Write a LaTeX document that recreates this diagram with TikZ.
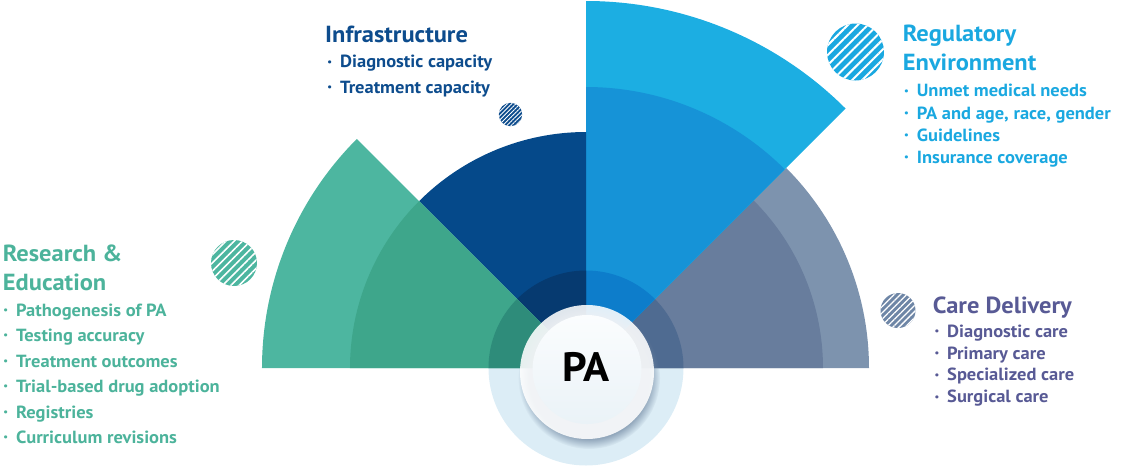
\documentclass[tikz,border=0pt]{standalone}
\usepackage{fontspec}
\setmainfont{PT Sans}[FakeStretch=1.05]
\usetikzlibrary{patterns.meta,fadings}

\definecolor{greenOut}{HTML}{4DB6A0}
\definecolor{greenIn}{HTML}{3EA68B}
\definecolor{greenCore}{HTML}{2E8C7A}
\definecolor{greenText}{HTML}{4CB39B}
\definecolor{navyOut}{HTML}{05498A}
\definecolor{navyCore}{HTML}{063A70}
\definecolor{navyText}{HTML}{0D4C8D}
\definecolor{cyanOut}{HTML}{1CAEE2}
\definecolor{cyanIn}{HTML}{1693D7}
\definecolor{cyanCore}{HTML}{0D7DCB}
\definecolor{cyanText}{HTML}{1AA8E0}
\definecolor{slateOut}{HTML}{7D93AE}
\definecolor{slateIn}{HTML}{687D9D}
\definecolor{slateCore}{HTML}{4F6B91}
\definecolor{slateDot}{HTML}{6E86A6}
\definecolor{slateText}{HTML}{585A95}
\definecolor{haloBlue}{HTML}{DCEDF6}
\definecolor{shadowBlue}{HTML}{6F86A0}
\definecolor{diskTop}{HTML}{FBFDFE}
\definecolor{diskBot}{HTML}{EAF2F7}

\newcommand\dotmark{\makebox[13pt][l]{\hspace{0.3pt}\raisebox{0.3ex}{\fontsize{10}{10}\selectfont\textbullet}}}

\begin{document}
\begin{tikzpicture}[x=1pt,y=1pt,
    headline/.style={anchor=base west, inner sep=0pt, font=\fontsize{23.3}{23}\selectfont\bfseries},
    listline/.style={anchor=base west, inner sep=0pt, font=\fontsize{17.6}{17}\selectfont\bfseries},
    hatch/.style n args={3}{fill=#1, postaction={pattern={Lines[angle=45,distance=#2,line width=#3]}, pattern color=white}}]
  \useasboundingbox (-586,-99) rectangle (554,368);

  % halo under the fan
  \fill[haloBlue] (-97.5,0) arc[start angle=180, end angle=360, radius=97.5] -- cycle;

  % fan sectors
  \fill[slateOut] (0,0) -- (0:283) arc[start angle=0, end angle=45, radius=283] -- cycle;
  \fill[slateIn] (0,0) -- (0:237) arc[start angle=0, end angle=45, radius=237] -- cycle;
  \fill[slateCore] (0,0) -- (0:97.5) arc[start angle=0, end angle=45, radius=97.5] -- cycle;
  \fill[cyanOut] (0,0) -- (45:367) arc[start angle=45, end angle=90, radius=367] -- cycle;
  \fill[cyanIn] (0,0) -- (45:281) arc[start angle=45, end angle=90, radius=281] -- cycle;
  \fill[cyanCore] (0,0) -- (45:97.5) arc[start angle=45, end angle=90, radius=97.5] -- cycle;
  \fill[navyOut] (0,0) -- (90:236) arc[start angle=90, end angle=135, radius=236] -- cycle;
  \fill[navyCore] (0,0) -- (90:97.5) arc[start angle=90, end angle=135, radius=97.5] -- cycle;
  \fill[greenOut] (0,0) -- (135:324) arc[start angle=135, end angle=180, radius=324] -- cycle;
  \fill[greenIn] (0,0) -- (135:236) arc[start angle=135, end angle=180, radius=236] -- cycle;
  \fill[greenCore] (0,0) -- (135:97.5) arc[start angle=135, end angle=180, radius=97.5] -- cycle;

  % centre disk
  \fill[shadowBlue, path fading=circle with fuzzy edge 15 percent, opacity=.7] (3,-10) circle (71);
  \fill[white, opacity=.88] (1,-4) circle (67);
  \shade[top color=diskTop, bottom color=diskBot] (1,-1.5) circle (54.5);
  \node[anchor=base, inner sep=0pt, font=\fontsize{41}{41}\selectfont\bfseries] (pa) at (0,-13.7) {PA};

  % hatched dots
  \fill[hatch={greenOut}{5.8pt}{1.6pt}] (-352,105) circle (23);
  \fill[hatch={navyText}{3pt}{0.9pt}] (-75.5,253.5) circle (11.7);
  \fill[hatch={cyanText}{7pt}{2pt}] (269.5,316) circle (28.5);
  \fill[hatch={slateDot}{4.4pt}{1.3pt}] (312,57.5) circle (17.5);

  % Research & Education
  \node[headline, text=greenText] (re) at (-583.3,106.3) {Research \&};
  \node[headline, text=greenText] (re0) at (-583.3,78) {Education};
  \node[listline, text=greenText] (re1) at (-583,52) {\dotmark Pathogenesis of PA};
  \node[listline, text=greenText] (re2) at (-583,26.5) {\dotmark Testing accuracy};
  \node[listline, text=greenText] (re3) at (-583,1) {\dotmark Treatment outcomes};
  \node[listline, text=greenText] (re4) at (-583,-24.5) {\dotmark Trial-based drug adoption};
  \node[listline, text=greenText] (re5) at (-583,-50) {\dotmark Registries};
  \node[listline, text=greenText] (re6) at (-583,-75.5) {\dotmark Curriculum revisions};

  % Infrastructure
  \node[headline, text=navyText] (inf) at (-261,325.7) {Infrastructure};
  \node[listline, text=navyText] (inf1) at (-259,300.3) {\dotmark Diagnostic capacity};
  \node[listline, text=navyText] (inf2) at (-259,274.7) {\dotmark Treatment capacity};

  % Regulatory Environment
  \node[headline, text=cyanText] (reg) at (316.7,326.3) {Regulatory};
  \node[headline, text=cyanText] (reg0) at (316.7,297.3) {Environment};
  \node[listline, text=cyanText] (reg1) at (317.7,271.3) {\dotmark Unmet medical needs};
  \node[listline, text=cyanText] (reg2) at (317.7,249) {\dotmark PA and age, race, gender};
  \node[listline, text=cyanText] (reg3) at (317.7,226.8) {\dotmark Guidelines};
  \node[listline, text=cyanText] (reg4) at (317.7,204.6) {\dotmark Insurance coverage};

  % Care Delivery
  \node[headline, text=slateText] (cd) at (346.7,54.7) {Care Delivery};
  \node[listline, text=slateText] (cd1) at (348,30.7) {\dotmark Diagnostic care};
  \node[listline, text=slateText] (cd2) at (348,8.9) {\dotmark Primary care};
  \node[listline, text=slateText] (cd3) at (348,-12.9) {\dotmark Specialized care};
  \node[listline, text=slateText] (cd4) at (348,-34.7) {\dotmark Surgical care};
\end{tikzpicture}
\end{document}
